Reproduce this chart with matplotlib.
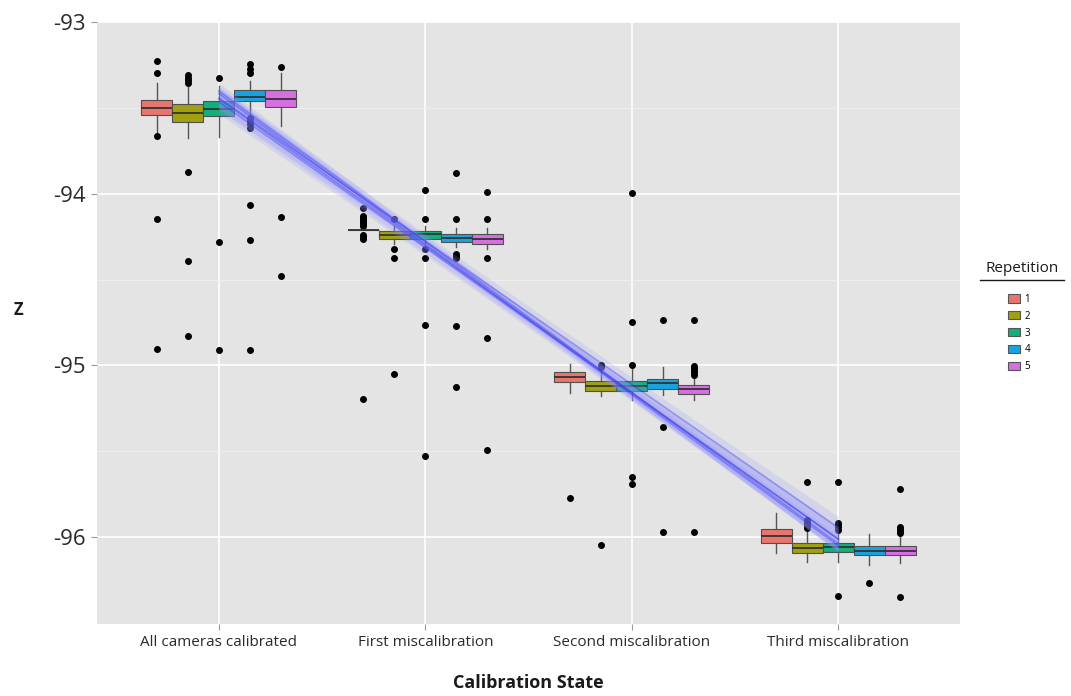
"""Boxplots of Z per calibration state and repetition, with per-repetition linear trends"""

import numpy as np
import matplotlib
matplotlib.use("Agg")
import matplotlib.pyplot as plt
from matplotlib.patches import Patch
from matplotlib.lines import Line2D

states = ["All cameras calibrated", "First miscalibration",
          "Second miscalibration", "Third miscalibration"]
repetitions = ["1", "2", "3", "4", "5"]

# box statistics, rows = calibration state, columns = repetition
z_q3 = [[-93.453, -93.477, -93.459, -93.395, -93.395],
        [-94.209, -94.215, -94.215, -94.233, -94.233],
        [-95.041, -95.093, -95.093, -95.081, -95.116],
        [-95.953, -96.035, -96.035, -96.052, -96.052]]
z_med = [[-93.500, -93.529, -93.506, -93.436, -93.448],
         [-94.209, -94.238, -94.233, -94.256, -94.262],
         [-95.070, -95.122, -95.122, -95.105, -95.140],
         [-95.994, -96.064, -96.058, -96.081, -96.081]]
z_q1 = [[-93.541, -93.581, -93.547, -93.459, -93.494],
        [-94.209, -94.262, -94.262, -94.279, -94.291],
        [-95.099, -95.151, -95.151, -95.140, -95.169],
        [-96.035, -96.093, -96.087, -96.105, -96.105]]
z_whishi = [[-93.355, -93.366, -93.372, -93.343, -93.297],
            [-94.209, -94.190, -94.190, -94.200, -94.200],
            [-94.994, -95.020, -95.020, -95.010, -95.076],
            [-95.860, -95.965, -95.977, -95.983, -95.983]]
z_whislo = [[-93.651, -93.674, -93.669, -93.547, -93.605],
            [-94.209, -94.290, -94.290, -94.310, -94.320],
            [-95.163, -95.180, -95.200, -95.174, -95.203],
            [-96.093, -96.145, -96.145, -96.163, -96.152]]

# outliers
z_out = [
    [[-93.227, -93.297, -93.663, -94.145, -94.907],
     [-93.310, -93.326, -93.340, -93.355, -93.872, -94.390, -94.826],
     [-93.326, -94.279, -94.913],
     [-93.244, -93.273, -93.297, -93.558, -93.576, -93.593, -93.616,
      -94.064, -94.267, -94.913],
     [-93.262, -94.134, -94.477]],
    [[-94.081, -94.128, -94.140, -94.151, -94.163, -94.174, -94.186,
      -94.238, -94.250, -94.262, -95.198],
     [-94.145, -94.320, -94.372, -95.052],
     [-93.977, -94.145, -94.320, -94.372, -94.762, -95.529],
     [-93.878, -94.145, -94.349, -94.360, -94.372, -94.773, -95.128],
     [-93.988, -94.145, -94.372, -94.843, -95.494]],
    [[-95.773],
     [-95.000, -95.006, -95.012, -96.047],
     [-93.994, -94.750, -95.000, -95.651, -95.692],
     [-94.738, -95.360, -95.971],
     [-94.738, -95.006, -95.017, -95.029, -95.041, -95.058, -95.971]],
    [[],
     [-95.680, -95.901, -95.913, -95.924, -95.936, -95.948],
     [-95.680, -95.919, -95.930, -95.942, -95.959, -96.343],
     [-96.267],
     [-95.721, -95.942, -95.953, -95.965, -95.977, -96.349]],
]

rep_colors = ["#E8766D", "#A0A012", "#12AE7C", "#17A4DE", "#D66FE2"]

fig = plt.figure(figsize=(10.71, 6.96), dpi=100)
plt.rcParams['font.family'] = ['Open Sans', 'DejaVu Sans']
ax = fig.add_axes([97 / 1071, 1 - 624 / 696, 863 / 1071, 602 / 696])
ax.set_facecolor("#E4E4E4")
for side in ax.spines.values():
    side.set_visible(False)

box_w = 0.15
offsets = [-0.3, -0.15, 0.0, 0.15, 0.3]

for s in range(len(states)):
    for r in range(len(repetitions)):
        stats = [dict(q1=z_q1[s][r], med=z_med[s][r], q3=z_q3[s][r],
                      whislo=z_whislo[s][r], whishi=z_whishi[s][r],
                      fliers=z_out[s][r])]
        ax.bxp(stats, positions=[s + 1 + offsets[r]], widths=box_w,
               patch_artist=True, showcaps=False, manage_ticks=False,
               boxprops=dict(facecolor=rep_colors[r], edgecolor="#505050", linewidth=0.8),
               medianprops=dict(color="#333333", linewidth=1.3),
               whiskerprops=dict(color="#555555", linewidth=1.0),
               flierprops=dict(marker="o", markerfacecolor="black",
                               markeredgecolor="black", markersize=4),
               zorder=3)

# linear trend per repetition, fitted through the medians
xs = np.arange(1, len(states) + 1)
xfit = np.linspace(1, len(states), 50)
med = np.array(z_med)
sxx = np.sum((xs - xs.mean()) ** 2)
for r in range(len(repetitions)):
    coef = np.polyfit(xs, med[:, r], 1)
    resid = med[:, r] - np.polyval(coef, xs)
    sigma = np.sqrt(np.sum(resid ** 2) / (len(xs) - 2))
    se = sigma * np.sqrt(1 / len(xs) + (xfit - xs.mean()) ** 2 / sxx)
    yfit = np.polyval(coef, xfit)
    ax.fill_between(xfit, yfit - se, yfit + se, color="#9090FF", alpha=0.2,
                    linewidth=0, zorder=4)
    ax.plot(xfit, yfit, color="#3535F0", alpha=0.4, linewidth=1.2, zorder=5)

ax.set_xlim(0.41, 4.59)
ax.set_ylim(-96.506, -93.006)
ax.set_xticks(xs)
ax.set_xticklabels(states, fontsize=11, color="#2A2A2A")
ax.set_yticks([-93, -94, -95, -96])
ax.set_yticklabels(["-93", "-94", "-95", "-96"], fontsize=16, color="#2A2A2A")
ax.set_yticks([-93.5, -94.5, -95.5], minor=True)
ax.tick_params(axis="both", which="major", length=4, color="#999999", pad=4)
ax.tick_params(axis="y", which="minor", length=0)
ax.grid(True, which="major", color="white", linewidth=1.2, zorder=0)
ax.grid(True, which="minor", axis="y", color="#F0F0F0", linewidth=0.6, zorder=0)
ax.set_axisbelow(True)

fig.text(528 / 1071, 1 - 683 / 696, "Calibration State", ha="center", va="center",
         fontsize=13, fontweight="bold", color="#1A1A1A")
fig.text(18 / 1071, 1 - 310 / 696, "Z", ha="center", va="center",
         fontsize=12, fontweight="bold", color="#1A1A1A")

# legend with underlined title
fig.text(1022 / 1071, 1 - 269 / 696, "Repetition", ha="center", va="center",
         fontsize=11, color="#1A1A1A")
fig.add_artist(Line2D([980 / 1071, 1064 / 1071], [1 - 280 / 696, 1 - 280 / 696],
                      color="#1A1A1A", linewidth=1.0))
handles = [Patch(facecolor=c, edgecolor="#555555", linewidth=0.8) for c in rep_colors]
fig.legend(handles, repetitions, loc="upper left",
           bbox_to_anchor=(1003 / 1071, 1 - 289 / 696), frameon=False,
           fontsize=7, handlelength=1.2, handleheight=0.9, handletextpad=0.5,
           labelspacing=0.6, borderpad=0)

fig.savefig("out.png", dpi=100)
